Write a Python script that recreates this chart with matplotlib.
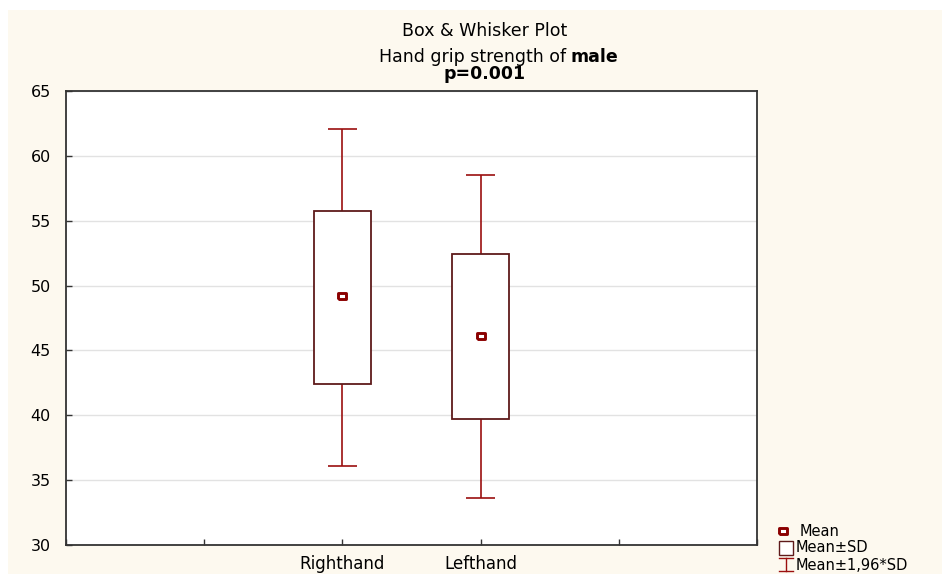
import matplotlib
matplotlib.use("Agg")
import matplotlib.pyplot as plt
from matplotlib.lines import Line2D
from matplotlib.patches import Rectangle

plt.rcParams['font.family'] = ['DejaVu Sans']

categories = ["Righthand", "Lefthand"]
positions = [2, 3]
means = [49.2, 46.1]
box_low = [42.45, 39.7]
box_high = [55.75, 52.4]
whisk_low = [36.1, 33.6]
whisk_high = [62.05, 58.55]
y_ticks = [30, 35, 40, 45, 50, 55, 60, 65]

BG = "#fdf9ef"
BOX_EDGE = "#5e1a1a"
WHISK = "#9b0f0f"
MEAN_C = "#8b0000"
MEAN_MARKER = [(-1.6, -1), (1.6, -1), (1.6, 1), (-1.6, 1), (-1.6, -1)]

fig = plt.figure(figsize=(9.42, 5.74), dpi=100)
fig.patch.set_facecolor("white")
fig.add_artist(Rectangle((8/942, 0), 1 - 8/942, 1 - 10/574, transform=fig.transFigure,
                         facecolor=BG, edgecolor="none", zorder=-10))

ax = fig.add_axes([66/942, 1 - 545/574, (757-66)/942, (545-91)/574])
ax.set_facecolor("white")
ax.set_xlim(0, 5)
ax.set_ylim(30, 65)

ax.set_yticks(y_ticks)
ax.set_yticklabels([str(v) for v in y_ticks], fontsize=11.5)
ax.set_xticks(range(6))
xl = [""] * 6
for p, c in zip(positions, categories):
    xl[p] = c
ax.set_xticklabels(xl, fontsize=12)
ax.tick_params(direction="in", length=4, width=1, color="#333333")
ax.tick_params(axis="x", pad=7)
ax.tick_params(axis="y", pad=11)
ax.yaxis.grid(True, color="#e2e2e2", linewidth=1)
ax.set_axisbelow(True)
for s in ax.spines.values():
    s.set_color("#333333")
    s.set_linewidth(1.3)

heights = [h - l for h, l in zip(box_high, box_low)]
ax.bar(positions, heights, bottom=box_low, width=0.41, facecolor="white",
       edgecolor=BOX_EDGE, linewidth=1.3, zorder=3)
ax.vlines(positions, box_high, whisk_high, color=WHISK, linewidth=1.2, zorder=2)
ax.vlines(positions, whisk_low, box_low, color=WHISK, linewidth=1.2, zorder=2)
cap = 0.105
ax.hlines(whisk_high, [p - cap for p in positions], [p + cap for p in positions],
          color=WHISK, linewidth=1.2, zorder=2)
ax.hlines(whisk_low, [p - cap for p in positions], [p + cap for p in positions],
          color=WHISK, linewidth=1.2, zorder=2)
ax.plot(positions, means, linestyle="none", marker=MEAN_MARKER, markersize=6,
        markerfacecolor="white", markeredgecolor=MEAN_C, markeredgewidth=2.1, zorder=4)

# titles
fig.text(485/942, 1 - 31/574, "Box & Whisker Plot", ha="center", va="center", fontsize=12.5)
fig.text(566/942, 1 - 57/574, "Hand grip strength of", ha="right", va="center", fontsize=12.5)
fig.text(571/942, 1 - 57/574, "male", ha="left", va="center", fontsize=12.5, fontweight="bold")
fig.text(485/942, 1 - 74/574, "p=0.001", ha="center", va="center", fontsize=12.5, fontweight="bold")

# legend
tf = fig.transFigure
def fx(x): return x / 942
def fy(y): return 1 - y / 574
fig.add_artist(Line2D([fx(783)], [fy(531)], marker=MEAN_MARKER, markersize=6, markerfacecolor="white",
                      markeredgecolor=MEAN_C, markeredgewidth=2.1, transform=tf))
fig.text(fx(800), fy(531), "Mean", va="center", ha="left", fontsize=10.5)
fig.add_artist(Rectangle((fx(779), fy(555)), (793-779)/942, (555-541)/574, transform=tf,
                         facecolor="white", edgecolor=BOX_EDGE, linewidth=1))
fig.text(fx(796), fy(548), "Mean\u00b1SD", va="center", ha="left", fontsize=10.5)
fig.add_artist(Line2D([fx(786), fx(786)], [fy(558), fy(571)], color=WHISK, linewidth=1, transform=tf))
fig.add_artist(Line2D([fx(779), fx(793)], [fy(558), fy(558)], color=WHISK, linewidth=1, transform=tf))
fig.add_artist(Line2D([fx(779), fx(793)], [fy(571), fy(571)], color=WHISK, linewidth=1, transform=tf))
fig.text(fx(796), fy(565), "Mean\u00b11,96*SD", va="center", ha="left", fontsize=10.5)

fig.savefig("out.png", dpi=100, facecolor=fig.get_facecolor())
